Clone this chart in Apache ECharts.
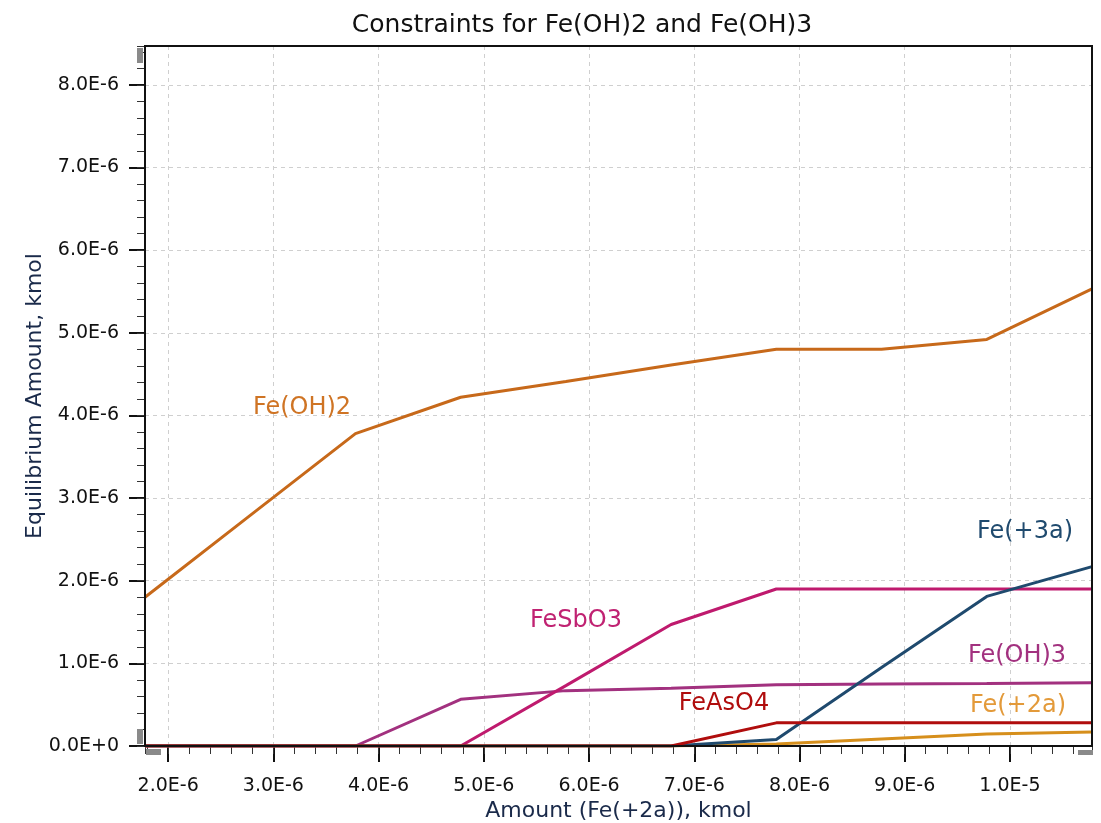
<!DOCTYPE html>
<html>
<head>
<meta charset="utf-8">
<script src="https://cdn.jsdelivr.net/npm/echarts@6/dist/echarts.min.js"></script>
<style>html,body{margin:0;padding:0;background:#fff}#c{width:1101px;height:823px}</style>
</head>
<body>
<div id="c"></div>
<script>
// x values: Amount (Fe(+2a)), kmol
const amountFe2a = [1.78e-6, 2.78e-6, 3.78e-6, 4.78e-6, 5.78e-6, 6.78e-6, 7.78e-6, 8.78e-6, 9.78e-6, 10.78e-6];
// equilibrium amounts, in units of 1E-6 kmol
const feOH2  = [1.80, 2.79, 3.78, 4.22, 4.41, 4.61, 4.80, 4.80, 4.92, 5.53];
const feSbO3 = [0, 0, 0, 0, 0.73, 1.47, 1.90, 1.90, 1.90, 1.90];
const feOH3  = [0, 0, 0, 0.565, 0.67, 0.70, 0.74, 0.75, 0.755, 0.765];
const feAsO4 = [0, 0, 0, 0, 0, 0, 0.28, 0.28, 0.28, 0.28];
const fe3a   = [0, 0, 0, 0, 0, 0, 0.08, 0.95, 1.81, 2.17];
const fe2a   = [0, 0, 0, 0, 0, 0, 0.025, 0.085, 0.145, 0.17];
const xTickFmt = v => (v / 1e-6 >= 9.99 ? (v / 1e-5).toFixed(1) + 'E-5' : (v / 1e-6).toFixed(1) + 'E-6');
const yTickFmt = v => (v === 0 ? '0.0E+0' : (v / 1e-6).toFixed(1) + 'E-6');

const FONT = 'DejaVu Sans';
const pairs = (ys) => amountFe2a.map((x, i) => [x, ys[i] * 1e-6]);

const seriesDefs = [
  {name: 'Fe(OH)2', data: feOH2, color: '#C7691A'},
  {name: 'Fe(OH)3', data: feOH3, color: '#A2317F'},
  {name: 'FeSbO3', data: feSbO3, color: '#BF1A6E'},
  {name: 'Fe(+2a)', data: fe2a, color: '#D68F1C'},
  {name: 'Fe(+3a)', data: fe3a, color: '#1F4A6E'},
  {name: 'FeAsO4', data: feAsO4, color: '#B00D0D'}
];

const labels = [
  {text: 'Fe(OH)2', x: 302, y: 408, color: '#CF7424'},
  {text: 'FeSbO3', x: 576, y: 621, color: '#C02272'},
  {text: 'Fe(+3a)', x: 1025, y: 532, color: '#1F4A6E'},
  {text: 'Fe(OH)3', x: 1017, y: 656, color: '#A2317F'},
  {text: 'FeAsO4', x: 724, y: 704, color: '#B00D0D'},
  {text: 'Fe(+2a)', x: 1018, y: 706, color: '#E39A3A'}
];

const chart = echarts.init(document.getElementById('c'), null, {renderer: 'canvas'});
const G = {left: 145, right: 9, top: 46, bottom: 77};
const W = 1101, H = 823;
const xMin = 1.78e-6, xMax = 10.78e-6, yMin = 0, yMax = 8.47e-6;

chart.setOption({
  animation: false,
  backgroundColor: '#fff',
  title: {
    text: 'Constraints for Fe(OH)2 and Fe(OH)3',
    left: 577, top: 8, textAlign: 'center',
    textStyle: {fontFamily: FONT, fontSize: 25, fontWeight: 'normal', color: '#111'}
  },
  grid: Object.assign({show: false, containLabel: false, outerBoundsMode: 'none'}, G),
  xAxis: [
    {
      type: 'value', min: xMin, max: xMax, minInterval: 1e-6, maxInterval: 1e-6, splitNumber: 9,
      position: 'bottom',
      name: 'Amount (Fe(+2a)), kmol', nameLocation: 'middle', nameGap: 54, nameMoveOverlap: false,
      nameTextStyle: {fontFamily: FONT, fontSize: 22, color: '#1a2a4a'},
      axisLine: {show: true, lineStyle: {color: '#111', width: 2}},
      axisTick: {show: true, inside: false, length: 16, lineStyle: {color: '#111', width: 2}},
      axisLabel: {showMinLabel: false, showMaxLabel: false, margin: 31, formatter: xTickFmt,
        fontFamily: FONT, fontSize: 19, color: '#111'},
      splitLine: {show: true, lineStyle: {color: '#cfcfcf', type: [4, 4], width: 1}}
    },
    {
      type: 'value', min: xMin, max: xMax, minInterval: 0.2e-6, maxInterval: 0.2e-6, splitNumber: 45,
      position: 'bottom',
      axisLine: {show: false},
      axisTick: {show: true, inside: false, length: 8, lineStyle: {color: '#333', width: 1}},
      axisLabel: {show: false},
      splitLine: {show: false}
    }
  ],
  yAxis: [
    {
      type: 'value', min: yMin, max: yMax, minInterval: 1e-6, maxInterval: 1e-6, splitNumber: 8,
      position: 'left',
      name: 'Equilibrium Amount, kmol', nameLocation: 'middle', nameGap: 99, nameMoveOverlap: false,
      nameTextStyle: {fontFamily: FONT, fontSize: 22, color: '#1a2a4a'},
      axisLine: {show: true, lineStyle: {color: '#111', width: 2}},
      axisTick: {show: true, inside: false, length: 16, lineStyle: {color: '#111', width: 2}},
      axisLabel: {showMinLabel: true, showMaxLabel: false, margin: 26, formatter: yTickFmt,
        fontFamily: FONT, fontSize: 19, color: '#111'},
      splitLine: {show: true, lineStyle: {color: '#cfcfcf', type: [4, 4], width: 1}}
    },
    {
      type: 'value', min: yMin, max: yMax, minInterval: 0.2e-6, maxInterval: 0.2e-6, splitNumber: 42,
      position: 'left',
      axisLine: {show: false},
      axisTick: {show: true, inside: false, length: 8, lineStyle: {color: '#333', width: 1}},
      axisLabel: {show: false},
      splitLine: {show: false}
    }
  ],
  series: seriesDefs.map(s => ({
    name: s.name, type: 'line', data: pairs(s.data), xAxisIndex: 0, yAxisIndex: 0,
    showSymbol: false, symbol: 'none', clip: true,
    lineStyle: {color: s.color, width: 3}, itemStyle: {color: s.color}
  })),
  graphic: labels.map(l => ({
    type: 'text', x: l.x, y: l.y, z: 100,
    style: {text: l.text, fill: l.color, font: '24px "' + FONT + '"', textAlign: 'center', textVerticalAlign: 'middle'}
  })).concat([
    {type: 'rect', z: 90, silent: true,
     shape: {x: G.left, y: G.top, width: W - G.left - G.right, height: H - G.top - G.bottom},
     style: {fill: 'none', stroke: '#111', lineWidth: 2}},
    {type: 'rect', shape: {x: 137, y: 48, width: 6, height: 15}, style: {fill: '#8a8a8a'}, z: 100},
    {type: 'rect', shape: {x: 137, y: 729, width: 6, height: 15}, style: {fill: '#8a8a8a'}, z: 100},
    {type: 'rect', shape: {x: 146, y: 749, width: 15, height: 6}, style: {fill: '#8a8a8a'}, z: 100},
    {type: 'rect', shape: {x: 1078, y: 750, width: 15, height: 5}, style: {fill: '#8a8a8a'}, z: 100}
  ])
});
</script>
</body>
</html>
